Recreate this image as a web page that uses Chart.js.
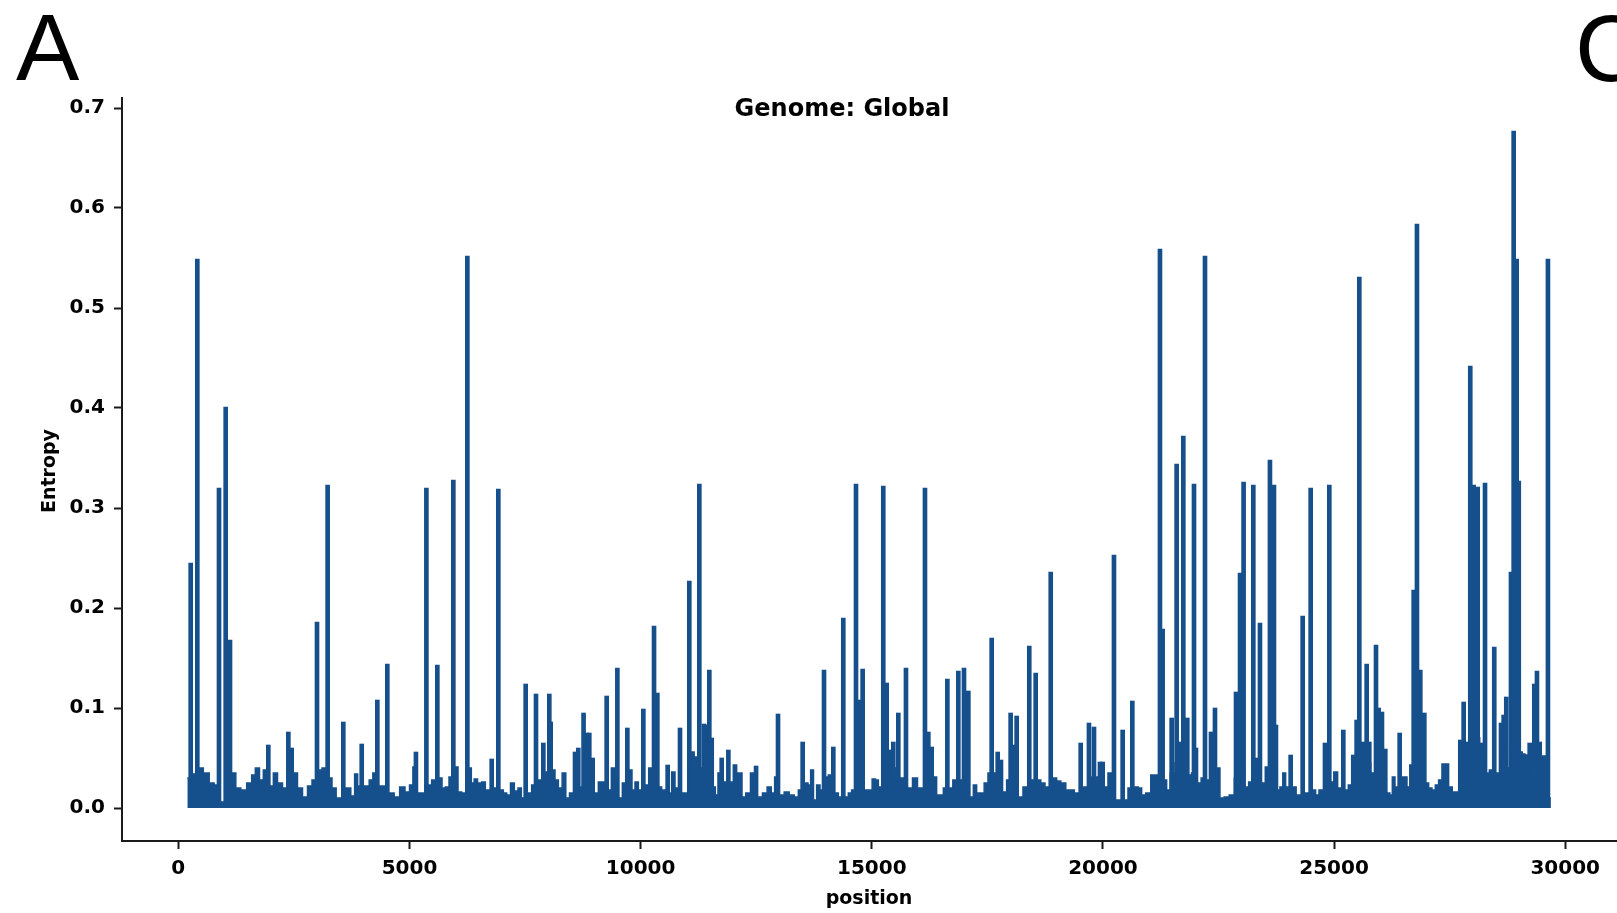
<!DOCTYPE html>
<html>
<head>
<meta charset="utf-8">
<title>Genome: Global</title>
<script src="https://cdn.jsdelivr.net/npm/chart.js@4.4.0/dist/chart.umd.min.js"></script>
<style>
    html, body { margin: 0; padding: 0; background: #fff; }
    #wrap { width: 1617px; height: 913px; position: relative; }
</style>
</head>
<body>
<div id="wrap"><canvas id="entropy-chart"></canvas></div>
<script>
// 背景噪声带（位置 / 熵）
const bgPos = [195, 330, 469, 614, 722, 830, 938, 1190, 1298, 1407, 1551, 1623, 1709, 1803, 1875, 2020, 2092, 2200, 2308, 2524,
    2632, 2741, 2849, 2935, 3065, 3152, 3281, 3368, 3461, 3677, 3785, 3843, 3915, 4075, 4183, 4233, 4399, 4615, 4723, 4853,
    4954, 5049, 5100, 5228, 5444, 5516, 5676, 5733, 5819, 5892, 6007, 6093, 6165, 6295, 6381, 6418, 6526, 6598, 6684, 6850,
    6995, 7067, 7138, 7233, 7304, 7391, 7449, 7607, 7679, 7809, 7953, 8111, 8185, 8256, 8349, 8414, 8509, 8704, 9050, 9121,
    9193, 9338, 9396, 9569, 9641, 9785, 9842, 9915, 9987, 10132, 10218, 10300, 10419, 10491, 10636, 10707, 10780, 10924, 10982, 11118,
    11198, 11300, 11450, 11587, 11645, 11702, 11825, 11970, 12041, 12113, 12165, 12221, 12329, 12424, 12582, 12690, 12783, 12870, 12928, 13051,
    13160, 13268, 13376, 13447, 13592, 13649, 13707, 13772, 13843, 13917, 14025, 14096, 14241, 14313, 14457, 14529, 14600, 14700, 14890, 14961,
    15055, 15106, 15178, 15300, 15450, 15647, 15827, 15935, 16043, 16367, 16439, 16512, 16584, 16707, 16800, 16945, 17161, 17233, 17304, 17377,
    17486, 17542, 17665, 17881, 17953, 18228, 18314, 18481, 18602, 18710, 18783, 18963, 19034, 19143, 19251, 19346, 19417, 19612, 19878, 20066,
    20153, 20332, 20514, 20571, 20730, 20802, 20873, 20981, 21089, 21162, 21343, 21414, 21500, 21620, 21760, 21883, 21950, 22099, 22150, 22279,
    22380, 22495, 22568, 22677, 22785, 22900, 23000, 23123, 23181, 23300, 23469, 23555, 23650, 23793, 23866, 23916, 23988, 24133, 24226, 24407,
    24565, 24637, 24710, 24948, 25041, 25113, 25272, 25344, 25450, 25600, 25750, 25835, 25950, 26050, 26182, 26231, 26289, 26346, 26491, 26541,
    26613, 26663, 26750, 26900, 27010, 27081, 27154, 27226, 27297, 27371, 27442, 27513, 27600, 27674, 27750, 27900, 28000, 28100, 28200, 28323,
    28394, 28538, 28650, 28776, 28850, 28950, 29043, 29100, 29157, 29281, 29497, 29569, 29690];
const bgVal = [0.030, 0.034, 0.040, 0.035, 0.025, 0.023, 0.006, 0.035, 0.020, 0.018, 0.025, 0.033, 0.040, 0.028, 0.038, 0.022, 0.035, 0.025, 0.020, 0.035,
    0.020, 0.011, 0.022, 0.028, 0.038, 0.040, 0.030, 0.020, 0.010, 0.020, 0.012, 0.034, 0.022, 0.022, 0.028, 0.035, 0.022, 0.015, 0.011, 0.021,
    0.016, 0.023, 0.041, 0.015, 0.023, 0.028, 0.030, 0.020, 0.021, 0.031, 0.041, 0.016, 0.015, 0.040, 0.025, 0.029, 0.025, 0.026, 0.018, 0.020,
    0.018, 0.015, 0.013, 0.025, 0.017, 0.020, 0.010, 0.015, 0.023, 0.028, 0.036, 0.038, 0.028, 0.020, 0.035, 0.010, 0.015, 0.021, 0.015, 0.026,
    0.026, 0.018, 0.040, 0.010, 0.025, 0.038, 0.018, 0.026, 0.018, 0.023, 0.040, 0.030, 0.021, 0.018, 0.015, 0.036, 0.020, 0.015, 0.015, 0.056,
    0.051, 0.040, 0.045, 0.021, 0.013, 0.035, 0.026, 0.026, 0.043, 0.035, 0.035, 0.011, 0.015, 0.035, 0.011, 0.015, 0.021, 0.015, 0.031, 0.013,
    0.016, 0.013, 0.011, 0.018, 0.025, 0.023, 0.038, 0.008, 0.023, 0.018, 0.031, 0.033, 0.015, 0.011, 0.011, 0.015, 0.018, 0.030, 0.018, 0.018,
    0.029, 0.028, 0.021, 0.030, 0.040, 0.030, 0.020, 0.030, 0.020, 0.031, 0.013, 0.013, 0.020, 0.020, 0.028, 0.028, 0.011, 0.023, 0.015, 0.015,
    0.025, 0.035, 0.035, 0.016, 0.028, 0.011, 0.021, 0.028, 0.028, 0.025, 0.021, 0.030, 0.027, 0.025, 0.018, 0.018, 0.015, 0.021, 0.031, 0.021,
    0.035, 0.008, 0.008, 0.020, 0.021, 0.020, 0.013, 0.015, 0.033, 0.033, 0.028, 0.018, 0.035, 0.045, 0.040, 0.033, 0.035, 0.025, 0.030, 0.028,
    0.050, 0.040, 0.010, 0.011, 0.013, 0.030, 0.040, 0.021, 0.026, 0.035, 0.025, 0.041, 0.040, 0.018, 0.021, 0.035, 0.021, 0.021, 0.013, 0.015,
    0.018, 0.013, 0.018, 0.026, 0.036, 0.020, 0.018, 0.023, 0.040, 0.045, 0.045, 0.035, 0.040, 0.035, 0.015, 0.013, 0.031, 0.021, 0.031, 0.031,
    0.021, 0.043, 0.045, 0.040, 0.025, 0.020, 0.018, 0.023, 0.028, 0.044, 0.044, 0.021, 0.016, 0.016, 0.040, 0.060, 0.070, 0.070, 0.050, 0.035,
    0.038, 0.035, 0.050, 0.040, 0.060, 0.060, 0.056, 0.054, 0.053, 0.030, 0.052, 0.052, 0.010];

// 高熵位点（位置 / 熵）
const spikePos = [268, 411, 880, 1025, 1118, 1947, 2380, 2452, 3000, 3230, 3569, 3967, 4305, 4521, 5140, 5366, 5603, 5949, 6252, 6779,
    6922, 7514, 7737, 7896, 8025, 8055, 8581, 8652, 8766, 8834, 8890, 8963, 9266, 9497, 9713, 10059, 10290, 10362, 10585, 10852,
    11053, 11270, 11371, 11429, 11486, 11538, 11754, 11898, 12497, 12972, 13505, 13967, 14168, 14384, 14659, 14731, 14803, 15249, 15322, 15394,
    15466, 15574, 15740, 16151, 16223, 16296, 16635, 16872, 16995, 17089, 17594, 17724, 17795, 18004, 18061, 18134, 18407, 18546, 18871, 19519,
    19698, 19807, 19936, 19995, 20239, 20427, 20636, 21234, 21292, 21487, 21595, 21652, 21739, 21825, 21970, 22013, 22208, 22338, 22424, 22879,
    22966, 23043, 23253, 23311, 23397, 23613, 23700, 23743, 24061, 24321, 24494, 24803, 24897, 25200, 25415, 25488, 25546, 25632, 25705, 25762,
    25907, 25964, 26036, 26108, 26419, 26722, 26793, 26865, 26952, 27730, 27803, 27875, 27946, 28019, 28060, 28107, 28199, 28265, 28465, 28611,
    28668, 28725, 28827, 28885, 28950, 28995, 29231, 29331, 29389, 29448, 29626];
const spikeVal = [0.245, 0.549, 0.320, 0.401, 0.168, 0.063, 0.076, 0.060, 0.186, 0.323, 0.086, 0.064, 0.108, 0.144, 0.056, 0.320, 0.143, 0.328, 0.552, 0.049,
    0.319, 0.124, 0.114, 0.065, 0.114, 0.086, 0.056, 0.060, 0.095, 0.075, 0.075, 0.050, 0.112, 0.140, 0.080, 0.099, 0.182, 0.115, 0.043, 0.080,
    0.227, 0.324, 0.084, 0.083, 0.138, 0.070, 0.050, 0.058, 0.042, 0.094, 0.066, 0.138, 0.061, 0.190, 0.324, 0.108, 0.139, 0.322, 0.125, 0.058,
    0.066, 0.095, 0.140, 0.320, 0.076, 0.061, 0.129, 0.137, 0.140, 0.117, 0.170, 0.056, 0.048, 0.095, 0.063, 0.092, 0.162, 0.135, 0.236, 0.065,
    0.085, 0.081, 0.046, 0.046, 0.253, 0.078, 0.107, 0.559, 0.179, 0.090, 0.344, 0.066, 0.372, 0.090, 0.324, 0.060, 0.552, 0.076, 0.100, 0.116,
    0.235, 0.326, 0.323, 0.050, 0.185, 0.348, 0.323, 0.083, 0.053, 0.192, 0.320, 0.065, 0.323, 0.078, 0.053, 0.088, 0.531, 0.066, 0.144, 0.066,
    0.163, 0.100, 0.096, 0.059, 0.075, 0.218, 0.584, 0.138, 0.095, 0.068, 0.106, 0.066, 0.442, 0.323, 0.095, 0.321, 0.065, 0.325, 0.161, 0.085,
    0.093, 0.111, 0.236, 0.677, 0.549, 0.327, 0.065, 0.124, 0.137, 0.066, 0.549];

// 坐标轴刻度
const xTicks = [0, 5000, 10000, 15000, 20000, 25000, 30000];
const yTicks = [0.0, 0.1, 0.2, 0.3, 0.4, 0.5, 0.6, 0.7];

const BLUE = '#16508c';
const AXIS_COLOR = '#1a1a1a';
const FONT = '"DejaVu Sans", sans-serif';

document.addEventListener('DOMContentLoaded', () => {
    initEntropyChart();
});

// 额外文字：面板字母、标题、轴标题
const textPlugin = {
    id: 'textPlugin',
    afterDraw(chart) {
        const ctx = chart.ctx;
        ctx.save();
        ctx.fillStyle = '#000';

        ctx.font = '95px "Liberation Sans", sans-serif';
        ctx.textAlign = 'left';
        ctx.textBaseline = 'alphabetic';
        ctx.fillText('A', 16, 80);
        ctx.fillText('C', 1575, 81);

        ctx.font = 'bold 24px ' + FONT;
        ctx.textAlign = 'center';
        ctx.textBaseline = 'middle';
        ctx.fillText('Genome: Global', 842, 110);

        ctx.font = 'bold 19px ' + FONT;
        ctx.fillText('position', 869, 899);

        ctx.translate(50, 471);
        ctx.rotate(-Math.PI / 2);
        ctx.fillText('Entropy', 0, 0);
        ctx.restore();
    }
};

function initEntropyChart() {
    const ctx = document.getElementById('entropy-chart').getContext('2d');

    const bgData = bgPos.map((p, i) => ({ x: p, y: bgVal[i] }));
    const spikeData = spikePos.map((p, i) => ({ x: p, y: spikeVal[i] }));

    new Chart(ctx, {
        type: 'bar',
        data: {
            datasets: [
                {
                    type: 'line',
                    data: bgData,
                    borderColor: BLUE,
                    backgroundColor: BLUE,
                    borderWidth: 1.5,
                    pointRadius: 0,
                    stepped: 'middle',
                    fill: 'origin'
                },
                {
                    type: 'bar',
                    data: spikeData,
                    backgroundColor: BLUE,
                    borderWidth: 0,
                    barThickness: 4,
                    grouped: false
                }
            ]
        },
        options: {
            responsive: true,
            maintainAspectRatio: false,
            animation: false,
            devicePixelRatio: 1,
            layout: { padding: { top: 98, right: 0, bottom: 0, left: 0 } },
            plugins: {
                legend: { display: false },
                tooltip: { enabled: false }
            },
            scales: {
                x: {
                    type: 'linear',
                    offset: false,
                    min: -1218,
                    max: 31120,
                    afterFit: (scale) => { scale.height = 72; },
                    afterBuildTicks: (scale) => { scale.ticks = xTicks.map(v => ({ value: v })); },
                    ticks: {
                        color: '#000',
                        padding: 8,
                        maxRotation: 0,
                        font: { family: FONT, weight: 'bold', size: 20 },
                        callback: (v) => String(v)
                    },
                    grid: { offset: false, drawOnChartArea: false, drawTicks: true, tickLength: 8, tickWidth: 2, tickColor: AXIS_COLOR },
                    border: { display: true, color: AXIS_COLOR, width: 2 }
                },
                y: {
                    min: -0.033,
                    max: 0.71,
                    afterFit: (scale) => { scale.width = 122; },
                    afterBuildTicks: (scale) => { scale.ticks = yTicks.map(v => ({ value: v })); },
                    ticks: {
                        color: '#000',
                        padding: 9,
                        font: { family: FONT, weight: 'bold', size: 20 },
                        callback: (v) => Number(v).toFixed(1)
                    },
                    grid: { drawOnChartArea: false, drawTicks: true, tickLength: 8, tickWidth: 2, tickColor: AXIS_COLOR },
                    border: { display: true, color: AXIS_COLOR, width: 2 }
                }
            }
        },
        plugins: [textPlugin]
    });
}
</script>
</body>
</html>
